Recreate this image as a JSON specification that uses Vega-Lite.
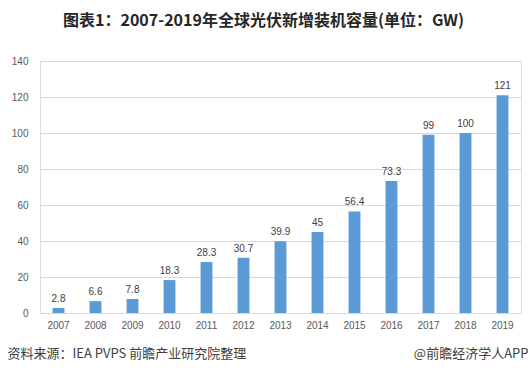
{
  "$schema": "https://vega.github.io/schema/vega-lite/v6.json",
  "width": 481,
  "height": 252,
  "autosize": {"type": "none"},
  "padding": {"left": 40, "top": 61, "right": 9, "bottom": 67},
  "background": "white",
  "title": {
    "text": "图表1：2007-2019年全球光伏新增装机容量(单位：GW)",
    "font": "Noto Sans CJK SC",
    "fontSize": 16,
    "fontWeight": "bold",
    "color": "#262626",
    "anchor": "middle",
    "dx": -17,
    "offset": 27
  },
  "data": {
    "values": [
      {"year": "2007", "value": 2.8},
      {"year": "2008", "value": 6.6},
      {"year": "2009", "value": 7.8},
      {"year": "2010", "value": 18.3},
      {"year": "2011", "value": 28.3},
      {"year": "2012", "value": 30.7},
      {"year": "2013", "value": 39.9},
      {"year": "2014", "value": 45},
      {"year": "2015", "value": 56.4},
      {"year": "2016", "value": 73.3},
      {"year": "2017", "value": 99},
      {"year": "2018", "value": 100},
      {"year": "2019", "value": 121}
    ]
  },
  "encoding": {
    "x": {
      "field": "year",
      "type": "ordinal",
      "scale": {"paddingInner": 0.68, "paddingOuter": 0.34},
      "axis": {
        "labelAngle": 0,
        "ticks": false,
        "domainColor": "#D9D9D9",
        "labelColor": "#595959",
        "labelFont": "Liberation Sans",
        "labelFontSize": 10,
        "labelPadding": 7,
        "title": "资料来源：IEA PVPS 前瞻产业研究院整理",
        "titleFont": "Noto Sans CJK SC",
        "titleFontSize": 13,
        "titleFontWeight": "normal",
        "titleColor": "#404040",
        "titleAnchor": "start",
        "titleAlign": "left",
        "titleBaseline": "alphabetic",
        "titleX": -33,
        "titleY": 44
      }
    },
    "y": {
      "field": "value",
      "type": "quantitative",
      "scale": {"domain": [0, 140]},
      "axis": {
        "values": [0, 20, 40, 60, 80, 100, 120, 140],
        "domain": false,
        "ticks": false,
        "gridColor": "#D9D9D9",
        "labelColor": "#595959",
        "labelFont": "Liberation Sans",
        "labelFontSize": 10,
        "labelPadding": 12,
        "title": "@前瞻经济学人APP",
        "titleFont": "Noto Sans CJK SC",
        "titleFontSize": 13,
        "titleFontWeight": "normal",
        "titleColor": "#404040",
        "titleAngle": 0,
        "titleAlign": "right",
        "titleBaseline": "alphabetic",
        "titleX": 488,
        "titleY": 296
      }
    }
  },
  "layer": [
    {"mark": {"type": "bar", "color": "#5B9BD5"}},
    {
      "mark": {"type": "text", "dy": -9, "font": "Liberation Sans", "fontSize": 10, "color": "#404040"},
      "encoding": {"text": {"field": "value", "type": "quantitative"}}
    }
  ]
}
